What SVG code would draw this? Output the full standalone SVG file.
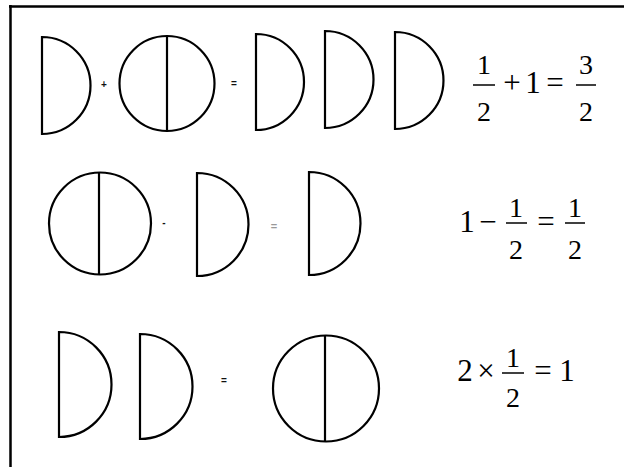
<svg xmlns="http://www.w3.org/2000/svg" width="624" height="467" viewBox="0 0 624 467">
<style>
.s{fill:none;stroke:#000;stroke-width:2.2}
.m{font-size:31px;fill:#000;text-anchor:middle}
.f{font-size:28px;fill:#000;text-anchor:middle}
.o{font-family:'Liberation Sans',Arial,sans-serif;font-size:10px;fill:#111;text-anchor:middle;font-weight:bold}
.g{font-family:'Liberation Sans',Arial,sans-serif;font-size:11px;fill:#999;text-anchor:middle;font-weight:bold}
.bar{stroke:#000;stroke-width:1.5}
.eq{font-family:'Liberation Serif','Times New Roman',serif}
</style>
<rect width="624" height="467" fill="#fff"/>
<g id="frame"><path d="M9 6.5H624M10.5 5V467" stroke="#000" stroke-width="2.5" fill="none"/></g>

<g id="row1">
<path class="s" d="M42 37A48.5 48.5 0 0 1 42 134Z"/>
<text class="o" x="104" y="88">+</text>
<circle class="s" cx="167" cy="83.5" r="47.5"/><path class="s" d="M167 36V131"/>
<text class="o" x="234" y="87">=</text>
<path class="s" d="M256 34A48 48 0 0 1 256 130Z"/>
<path class="s" d="M325 31A48.5 48.5 0 0 1 325 128Z"/>
<path class="s" d="M395 32A48.5 48.5 0 0 1 395 129Z"/>
</g>
<g id="eq1" class="eq">
<text class="f" x="484" y="74">1</text>
<line class="bar" x1="473" y1="85" x2="495" y2="85"/>
<text class="f" x="484" y="121">2</text>
<text class="m" x="512" y="93">+</text>
<text class="m" x="533" y="93">1</text>
<text class="m" x="555" y="93">=</text>
<text class="f" x="586" y="74">3</text>
<line class="bar" x1="576" y1="85" x2="596" y2="85"/>
<text class="f" x="586" y="121">2</text>
</g>

<g id="row2">
<circle class="s" cx="100" cy="223.5" r="51"/><path class="s" d="M99 172.5V274.5"/>
<text class="o" x="164" y="226">-</text>
<path class="s" d="M197 173A51.5 51.5 0 0 1 197 276Z"/>
<text class="g" x="274" y="230">=</text>
<path class="s" d="M309 172A51.5 51.5 0 0 1 309 275Z"/>
</g>
<g id="eq2" class="eq">
<text class="m" x="467" y="232">1</text>
<text class="m" x="488" y="232">−</text>
<text class="f" x="516" y="217">1</text>
<line class="bar" x1="506" y1="223" x2="527" y2="223"/>
<text class="f" x="516" y="259">2</text>
<text class="m" x="546" y="232">=</text>
<text class="f" x="575" y="217">1</text>
<line class="bar" x1="565" y1="223" x2="585" y2="223"/>
<text class="f" x="575" y="259">2</text>
</g>

<g id="row3">
<path class="s" d="M59 332A52.5 52.5 0 0 1 59 437Z"/>
<path class="s" d="M140 334A52.5 52.5 0 0 1 140 439Z"/>
<text class="o" x="224" y="384">=</text>
<circle class="s" cx="326" cy="388.5" r="53"/><path class="s" d="M325 335.5V441.5"/>
</g>
<g id="eq3" class="eq">
<text class="m" x="465" y="381">2</text>
<text class="m" x="486" y="381">×</text>
<text class="f" x="513" y="367">1</text>
<line class="bar" x1="502" y1="373" x2="524" y2="373"/>
<text class="f" x="513" y="407">2</text>
<text class="m" x="543" y="381">=</text>
<text class="m" x="567" y="381">1</text>
</g>
</svg>
